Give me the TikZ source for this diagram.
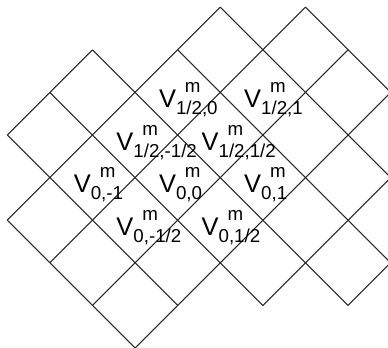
\documentclass[tikz,border=0pt]{standalone}
\usepackage{fontspec}
\setmainfont{Liberation Sans}
\tikzset{
  every picture/.style={line width=0.7pt},
  grid/.style={draw=black!85},
  cell/.style={anchor=base west, inner sep=0pt, font=\fontsize{17}{20}\selectfont, xshift=-0.45cm, yshift=-0.36cm},
}
\newcommand{\subsz}{\fontsize{12.5}{14}\selectfont}
\newcommand{\vlab}[1]{V\rlap{\hspace{6pt}\raisebox{10pt}{\subsz m}}\raisebox{-4.5pt}{\subsz #1}}

\begin{document}
\begin{tikzpicture}[x={(1cm,1cm)}, y={(1cm,-1cm)}]
  \useasboundingbox (-0.171cm,-4.977cm) rectangle (8.937cm,3.169cm);
  % up-right lines: row / first / last
  \foreach \q/\a/\b in {0/0/2, 1/-1/4, 2/-1/5, 3/-1/5, 4/-1/5, 5/1/4, 6/2/3}
    \draw[grid] (\a,\q) -- (\b,\q);
  % down-right lines
  \foreach \p/\a/\b in {-1/1/4, 0/0/4, 1/0/5, 2/0/6, 3/1/6, 4/1/5, 5/2/4}
    \draw[grid] (\p,\a) -- (\p,\b);
  % cell labels
  \foreach \p/\q/\s/\n in {2.5/1.5/{1/2,0}/h0, 3.5/2.5/{1/2,1}/h1, 1.5/1.5/{1/2,-1/2}/hm, 2.5/2.5/{1/2,1/2}/hh,
      0.5/1.5/{0,-1}/zm1, 1.5/2.5/{0,0}/z0, 2.5/3.5/{0,1}/z1, 0.5/2.5/{0,-1/2}/zm, 1.5/3.5/{0,1/2}/zh}
    \node[cell] (\n) at (\p,\q) {\vlab{\s}};
\end{tikzpicture}
\end{document}
